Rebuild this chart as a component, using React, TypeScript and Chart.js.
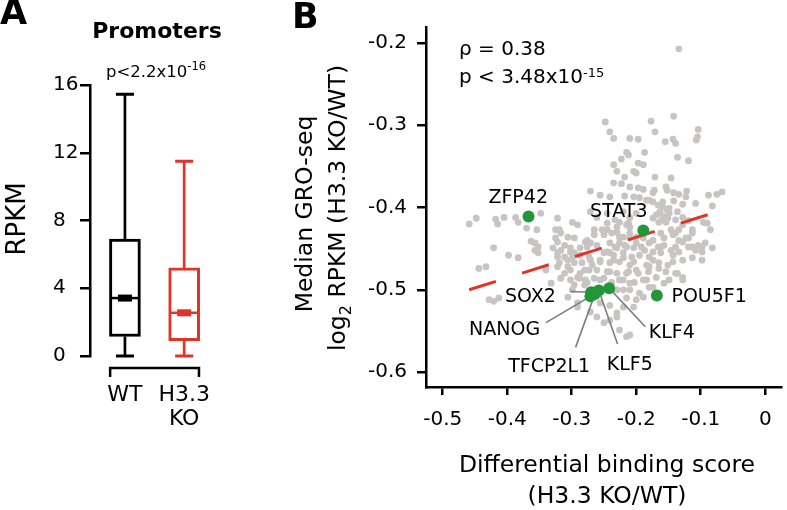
import React, { useEffect, useRef } from 'react';
import { Chart, registerables } from 'chart.js';
Chart.register(...registerables);

const FONT = '"DejaVu Sans", sans-serif';

// ---------- Panel A: promoter RPKM box plot ----------
const boxGroups = ['WT', 'H3.3 KO'];
const boxTickLabels = [['WT'], ['H3.3', 'KO']];
const whiskerLow = [0, 0];
const q1 = [1.15, 0.9];
const medians = [3.42, 2.55];
const q3 = [6.9, 5.2];
const whiskerHigh = [15.45, 11.5];
const boxColors = ['#000000', '#df3428'];
const rpkmTicks = [0, 4, 8, 12, 16];

// ---------- Panel B: scatter ----------
const scoreTicks = [-0.5, -0.4, -0.3, -0.2, -0.1, 0];
const scoreTickLabels = ['-0.5', '-0.4', '-0.3', '-0.2', '-0.1', '0'];
const groTicks = [-0.6, -0.5, -0.4, -0.3, -0.2];
const groTickLabels = ['-0.6', '-0.5', '-0.4', '-0.3', '-0.2'];

const bindingScore = [
  -0.134, -0.248, -0.177, -0.142, -0.104, -0.241, -0.235, -0.210, -0.197, -0.171,
  -0.155, -0.143, -0.139, -0.105, -0.107, -0.215, -0.212, -0.187, -0.223, -0.136,
  -0.119, -0.235, -0.197, -0.189, -0.230, -0.204, -0.200, -0.171, -0.146, -0.218,
  -0.235, -0.223, -0.210, -0.197, -0.189, -0.271, -0.174, -0.152, -0.134, -0.122,
  -0.075, -0.067, -0.241, -0.218, -0.204, -0.184, -0.174, -0.166, -0.159, -0.152,
  -0.163, -0.169, -0.157, -0.149, -0.160, -0.142, -0.128, -0.082, -0.271, -0.261,
  -0.245, -0.233, -0.459, -0.448, -0.418, -0.405, -0.415, -0.387, -0.383, -0.348,
  -0.370, -0.354, -0.322, -0.319, -0.299, -0.363, -0.325, -0.296, -0.265, -0.253,
  -0.230, -0.210, -0.154, -0.146, -0.139, -0.119, -0.113, -0.090, -0.085, -0.421,
  -0.287, -0.174, -0.166, -0.139, -0.128, -0.098, -0.271, -0.241, -0.230, -0.357,
  -0.444, -0.433, -0.398, -0.383, -0.352, -0.311, -0.296, -0.322, -0.296, -0.311,
  -0.332, -0.291, -0.280, -0.428, -0.421, -0.413, -0.241, -0.174, -0.165, -0.139,
  -0.128, -0.108, -0.169, -0.180, -0.291, -0.271, -0.261, -0.250, -0.241, -0.230,
  -0.220, -0.215, -0.276, -0.245, -0.230, -0.212, -0.165, -0.128, -0.096, -0.250,
  -0.238, -0.226, -0.210, -0.200, -0.162, -0.134, -0.119, -0.261, -0.233, -0.218,
  -0.204, -0.192, -0.180, -0.157, -0.146, -0.113, -0.093, -0.250, -0.235, -0.220,
  -0.207, -0.195, -0.180, -0.162, -0.143, -0.128, -0.256, -0.241, -0.226, -0.210,
  -0.184, -0.151, -0.245, -0.230, -0.212, -0.197, -0.181, -0.113, -0.098, -0.256,
  -0.238, -0.220, -0.203, -0.184, -0.157, -0.136, -0.230, -0.210, -0.195, -0.215,
  -0.200, -0.189, -0.204, -0.230, -0.256, -0.241, -0.226, -0.210, -0.291, -0.306,
  -0.322, -0.311, -0.276, -0.357, -0.322, -0.302, -0.319, -0.306, -0.284, -0.271,
  -0.340, -0.302, -0.287, -0.273, -0.317, -0.302, -0.279, -0.265, -0.299, -0.306,
  -0.291, -0.172, -0.154, -0.142, -0.123, -0.108, -0.088, -0.256, -0.195, -0.180,
  -0.159, -0.149, -0.136, -0.165, -0.174, -0.151, -0.139, -0.128, -0.220, -0.210,
  -0.200, -0.226, -0.215, -0.245, -0.220, -0.210, -0.226, -0.215, -0.200, -0.189,
  -0.187, -0.174, -0.162, -0.157, -0.143, -0.134, -0.123, -0.113, -0.134, -0.119,
  -0.104, -0.098, -0.082, -0.245, -0.256, -0.235, -0.220, -0.204, -0.180, -0.165,
  -0.143, -0.261, -0.241, -0.215, -0.200, -0.154, -0.250, -0.226, -0.210, -0.189,
  -0.174, -0.149, -0.128, -0.220, -0.352, -0.325, -0.317, -0.279, -0.265, -0.329,
  -0.317, -0.302, -0.276, -0.322, -0.299, -0.287, -0.273, -0.306, -0.268, -0.288,
  -0.296, -0.280
];
const groSeqRatio = [
  -0.207, -0.296, -0.295, -0.289, -0.305, -0.308, -0.316, -0.316, -0.317, -0.308,
  -0.320, -0.317, -0.322, -0.314, -0.318, -0.333, -0.336, -0.333, -0.341, -0.339,
  -0.343, -0.348, -0.346, -0.348, -0.356, -0.356, -0.358, -0.363, -0.364, -0.363,
  -0.370, -0.371, -0.375, -0.376, -0.378, -0.380, -0.382, -0.379, -0.384, -0.380,
  -0.384, -0.381, -0.387, -0.386, -0.387, -0.391, -0.393, -0.397, -0.399, -0.403,
  -0.405, -0.409, -0.411, -0.407, -0.415, -0.392, -0.396, -0.398, -0.405, -0.412,
  -0.407, -0.415, -0.420, -0.413, -0.414, -0.412, -0.420, -0.412, -0.418, -0.407,
  -0.425, -0.427, -0.413, -0.427, -0.418, -0.441, -0.437, -0.437, -0.427, -0.427,
  -0.430, -0.424, -0.418, -0.427, -0.431, -0.416, -0.427, -0.419, -0.427, -0.449,
  -0.449, -0.440, -0.448, -0.448, -0.442, -0.448, -0.443, -0.443, -0.449, -0.443,
  -0.474, -0.472, -0.458, -0.461, -0.455, -0.460, -0.455, -0.472, -0.467, -0.480,
  -0.492, -0.485, -0.476, -0.512, -0.514, -0.510, -0.455, -0.464, -0.474, -0.480,
  -0.488, -0.452, -0.485, -0.497, -0.521, -0.527, -0.533, -0.540, -0.537, -0.528,
  -0.521, -0.557, -0.491, -0.419, -0.424, -0.419, -0.418, -0.421, -0.418, -0.433,
  -0.431, -0.436, -0.437, -0.436, -0.431, -0.440, -0.437, -0.446, -0.448, -0.446,
  -0.449, -0.448, -0.443, -0.446, -0.452, -0.448, -0.443, -0.455, -0.458, -0.455,
  -0.460, -0.458, -0.460, -0.455, -0.458, -0.464, -0.466, -0.467, -0.466, -0.470,
  -0.470, -0.470, -0.478, -0.480, -0.478, -0.480, -0.478, -0.461, -0.464, -0.488,
  -0.491, -0.488, -0.491, -0.488, -0.492, -0.480, -0.500, -0.500, -0.504, -0.510,
  -0.512, -0.509, -0.521, -0.533, -0.516, -0.519, -0.549, -0.555, -0.421, -0.436,
  -0.442, -0.446, -0.440, -0.452, -0.455, -0.454, -0.467, -0.464, -0.467, -0.464,
  -0.476, -0.476, -0.480, -0.476, -0.486, -0.488, -0.488, -0.486, -0.500, -0.509,
  -0.516, -0.379, -0.375, -0.382, -0.387, -0.395, -0.385, -0.385, -0.388, -0.391,
  -0.393, -0.401, -0.405, -0.407, -0.413, -0.413, -0.415, -0.412, -0.405, -0.412,
  -0.407, -0.418, -0.421, -0.427, -0.436, -0.431, -0.443, -0.448, -0.443, -0.437,
  -0.452, -0.454, -0.448, -0.437, -0.433, -0.427, -0.437, -0.431, -0.454, -0.448,
  -0.446, -0.454, -0.449, -0.454, -0.464, -0.464, -0.461, -0.466, -0.472, -0.467,
  -0.466, -0.476, -0.478, -0.480, -0.476, -0.478, -0.486, -0.488, -0.492, -0.488,
  -0.497, -0.488, -0.485, -0.500, -0.448, -0.427, -0.431, -0.442, -0.433, -0.449,
  -0.452, -0.449, -0.448, -0.460, -0.460, -0.458, -0.460, -0.472, -0.470, -0.486,
  -0.494, -0.494
];

const genes = ['ZFP42', 'STAT3', 'POU5F1', 'SOX2', 'NANOG', 'TFCP2L1', 'KLF5', 'KLF4'];
const geneScore = [-0.367, -0.189, -0.168, -0.270, -0.271, -0.264, -0.258, -0.242];
const geneGro = [-0.411, -0.428, -0.507, -0.503, -0.508, -0.505, -0.501, -0.498];
// label anchor (centre x, baseline y) in data units, callout start (label side)
const geneLabelX = [-0.383, -0.227, -0.087, -0.364, -0.404, -0.335, -0.210, -0.145];
const geneLabelY = [-0.395, -0.412, -0.515, -0.515, -0.555, -0.600, -0.598, -0.559];
const calloutX = [null, null, null, -0.302, -0.340, -0.294, -0.229, -0.186];
const calloutY = [null, null, null, -0.502, -0.540, -0.570, -0.566, -0.545];

const fitX = [-0.459, -0.078];
const fitY = [-0.500, -0.406];

function drawText(ctx: CanvasRenderingContext2D, s: string, x: number, y: number, font: string, align: CanvasTextAlign = 'left') {
  ctx.save();
  ctx.font = font;
  ctx.fillStyle = '#000';
  ctx.textAlign = align;
  ctx.textBaseline = 'alphabetic';
  ctx.fillText(s, x, y);
  ctx.restore();
}

function drawPower(ctx: CanvasRenderingContext2D, base: string, sup: string, x: number, y: number, size: number, supSize: number, supY: number) {
  ctx.save();
  ctx.font = `${size}px ${FONT}`;
  ctx.fillStyle = '#000';
  ctx.textBaseline = 'alphabetic';
  ctx.textAlign = 'left';
  ctx.fillText(base, x, y);
  const w = ctx.measureText(base).width;
  ctx.font = `${supSize}px ${FONT}`;
  ctx.fillText(sup, x + w, supY);
  ctx.restore();
}

const boxPlugin = {
  id: 'boxExtras',
  beforeDatasetsDraw(chart: any) {
    const { ctx } = chart;
    const xs = chart.scales.x, ys = chart.scales.y;
    ctx.save();
    boxGroups.forEach((g, i) => {
      const xc = xs.getPixelForValue(i + 1);
      ctx.strokeStyle = boxColors[i];
      ctx.lineWidth = 2.7;
      ctx.beginPath();
      ctx.moveTo(xc, ys.getPixelForValue(q3[i]));
      ctx.lineTo(xc, ys.getPixelForValue(whiskerHigh[i]));
      ctx.moveTo(xc, ys.getPixelForValue(q1[i]));
      ctx.lineTo(xc, ys.getPixelForValue(whiskerLow[i]));
      ctx.stroke();
      ctx.lineWidth = 3;
      ctx.beginPath();
      [whiskerHigh[i], whiskerLow[i]].forEach((v) => {
        const y = ys.getPixelForValue(v);
        ctx.moveTo(xc - 9, y);
        ctx.lineTo(xc + 9, y);
      });
      ctx.stroke();
    });
    ctx.restore();
  },
  afterDatasetsDraw(chart: any) {
    const { ctx } = chart;
    const xs = chart.scales.x, ys = chart.scales.y;
    ctx.save();
    boxGroups.forEach((g, i) => {
      const xc = xs.getPixelForValue(i + 1);
      const y = ys.getPixelForValue(medians[i]);
      ctx.strokeStyle = boxColors[i];
      ctx.fillStyle = boxColors[i];
      ctx.lineWidth = 2.5;
      ctx.beginPath();
      ctx.moveTo(xc - 15, y);
      ctx.lineTo(xc + 15, y);
      ctx.stroke();
      ctx.fillRect(xc - 7, y - 3.5, 14, 7);
    });
    // bracket under the groups
    const x0 = xs.getPixelForValue(0.75), x1 = xs.getPixelForValue(2.25);
    const yb = chart.chartArea.bottom + 12;
    ctx.strokeStyle = '#000';
    ctx.lineWidth = 2.5;
    ctx.beginPath();
    ctx.moveTo(x0, yb + 9);
    ctx.lineTo(x0, yb);
    ctx.lineTo(x1, yb);
    ctx.lineTo(x1, yb + 9);
    ctx.stroke();
    ctx.restore();

    drawText(ctx, 'A', 0, 24, `bold 35px ${FONT}`);
    drawText(ctx, 'Promoters', 157, 38, `bold 22px ${FONT}`, 'center');
    drawPower(ctx, 'p<2.2x10', '-16', 106, 77, 16.5, 11.5, 70);
    ctx.save();
    ctx.translate(25, 219);
    ctx.rotate(-Math.PI / 2);
    drawText(ctx, 'RPKM', 0, 0, `26px ${FONT}`, 'center');
    ctx.restore();
  },
};

const scatterPlugin = {
  id: 'scatterExtras',
  afterDatasetDraw(chart: any, args: any) {
    if (args.index !== 2) return;
    const { ctx } = chart;
    const xs = chart.scales.x, ys = chart.scales.y;
    ctx.save();
    ctx.strokeStyle = '#7d7d7d';
    ctx.lineWidth = 1.6;
    genes.forEach((g, i) => {
      if (calloutX[i] === null) return;
      ctx.beginPath();
      ctx.moveTo(xs.getPixelForValue(calloutX[i]), ys.getPixelForValue(calloutY[i]));
      ctx.lineTo(xs.getPixelForValue(geneScore[i]), ys.getPixelForValue(geneGro[i]));
      ctx.stroke();
    });
    ctx.restore();
  },
  afterDraw(chart: any) {
    const { ctx } = chart;
    const xs = chart.scales.x, ys = chart.scales.y;
    genes.forEach((g, i) => {
      drawText(ctx, g, xs.getPixelForValue(geneLabelX[i]), ys.getPixelForValue(geneLabelY[i]), `19px ${FONT}`, 'center');
    });
    drawText(ctx, 'B', 52, 28, `bold 35px ${FONT}`);
    drawText(ctx, '\u03C1 = 0.38', 219, 55, `20px ${FONT}`);
    drawPower(ctx, 'p < 3.48x10', '-15', 219, 83, 20, 13, 77);

    // x title
    drawText(ctx, 'Differential binding score', 367, 472, `23.5px ${FONT}`, 'center');
    drawText(ctx, '(H3.3 KO/WT)', 367, 503, `23.5px ${FONT}`, 'center');

    // y title (rotated)
    ctx.save();
    ctx.translate(72, 214);
    ctx.rotate(-Math.PI / 2);
    drawText(ctx, 'Median GRO-seq', 0, 0, `23.5px ${FONT}`, 'center');
    ctx.restore();

    ctx.save();
    ctx.translate(105, 208);
    ctx.rotate(-Math.PI / 2);
    ctx.fillStyle = '#000';
    ctx.textBaseline = 'alphabetic';
    ctx.textAlign = 'left';
    const big = `23.5px ${FONT}`, small = `16px ${FONT}`;
    ctx.font = big;
    const w1 = ctx.measureText('log').width;
    const w3 = ctx.measureText(' RPKM (H3.3 KO/WT)').width;
    ctx.font = small;
    const w2 = ctx.measureText('2').width;
    let x = -(w1 + w2 + w3) / 2;
    ctx.font = big;
    ctx.fillText('log', x, 0);
    x += w1;
    ctx.font = small;
    ctx.fillText('2', x, 6);
    x += w2;
    ctx.font = big;
    ctx.fillText(' RPKM (H3.3 KO/WT)', x, 0);
    ctx.restore();
  },
};

export default function App() {
  const aRef = useRef<HTMLCanvasElement | null>(null);
  const bRef = useRef<HTMLCanvasElement | null>(null);

  useEffect(() => {
    const chartA = new Chart(aRef.current as HTMLCanvasElement, {
      type: 'bar',
      data: {
        datasets: [
          {
            data: boxGroups.map((g, i) => ({ x: i + 1, y: [q1[i], q3[i]] })) as any,
            backgroundColor: '#ffffff',
            borderColor: boxColors,
            borderWidth: 3,
            borderSkipped: false,
            barThickness: 31,
          } as any,
        ],
      },
      options: {
        responsive: true,
        maintainAspectRatio: false,
        animation: false,
        layout: { padding: { left: 53, right: 10, top: 85, bottom: 0 } },
        plugins: { legend: { display: false }, tooltip: { enabled: false } },
        scales: {
          x: {
            type: 'linear',
            offset: false,
            min: 0.41,
            max: 2.705,
            grid: { display: false, drawTicks: false, offset: false },
            border: { display: false },
            afterBuildTicks: (s: any) => {
              s.ticks = boxGroups.map((g, i) => ({ value: i + 1 }));
            },
            ticks: {
              callback: (v: any) => boxTickLabels[Math.round(v) - 1],
              font: { family: FONT, size: 22, lineHeight: 1.1 },
              color: '#000',
              padding: 27,
              maxRotation: 0,
              autoSkip: false,
            },
            afterFit: (s: any) => {
              s.height = 154;
            },
          },
          y: {
            min: 0,
            max: 16,
            afterBuildTicks: (s: any) => {
              s.ticks = rpkmTicks.map((v) => ({ value: v }));
            },
            grid: { drawOnChartArea: false, drawTicks: true, tickLength: 10, color: '#000', lineWidth: 2.5 },
            border: { display: true, color: '#000', width: 2.5 },
            ticks: { font: { family: FONT, size: 20 }, color: '#000', padding: 4, crossAlign: 'far' },
            afterFit: (s: any) => {
              s.width = 37;
            },
          },
        },
      } as any,
      plugins: [boxPlugin],
    });

    const chartB = new Chart(bRef.current as HTMLCanvasElement, {
      type: 'scatter',
      data: {
        datasets: [
          {
            label: 'genes',
            data: genes.map((g, i) => ({ x: geneScore[i], y: geneGro[i] })),
            pointRadius: 6,
            backgroundColor: '#23963a',
            borderWidth: 0,
          },
          {
            label: 'fit',
            data: fitX.map((x, i) => ({ x, y: fitY[i] })),
            showLine: true,
            borderColor: '#df3428',
            borderWidth: 3,
            borderDash: [28, 27.5],
            borderCapStyle: 'butt',
            pointRadius: 0,
            fill: false,
          },
          {
            label: 'promoters',
            data: bindingScore.map((x, i) => ({ x, y: groSeqRatio[i] })),
            pointRadius: 3.4,
            backgroundColor: '#c8c4c4',
            borderWidth: 0,
          },
        ] as any,
      },
      options: {
        responsive: true,
        maintainAspectRatio: false,
        animation: false,
        layout: { padding: { left: 0, right: 0, top: 27, bottom: 0 } },
        plugins: { legend: { display: false }, tooltip: { enabled: false } },
        scales: {
          x: {
            type: 'linear',
            min: -0.5259,
            max: 0.0244,
            afterBuildTicks: (s: any) => {
              s.ticks = scoreTicks.map((v) => ({ value: v }));
            },
            grid: { drawOnChartArea: false, drawTicks: true, tickLength: 8, color: '#000', lineWidth: 2.5 },
            border: { display: true, color: '#000', width: 2.5 },
            ticks: {
              callback: (v: any, idx: number) => scoreTickLabels[idx],
              font: { family: FONT, size: 20 },
              color: '#000',
              padding: 13,
              maxRotation: 0,
              autoSkip: false,
            },
            afterFit: (s: any) => {
              s.height = 123;
            },
          },
          y: {
            type: 'linear',
            min: -0.6182,
            max: -0.1805,
            afterBuildTicks: (s: any) => {
              s.ticks = groTicks.map((v) => ({ value: v }));
            },
            grid: { drawOnChartArea: false, drawTicks: true, tickLength: 9, color: '#000', lineWidth: 2.5 },
            border: { display: true, color: '#000', width: 2.5 },
            ticks: {
              callback: (v: any, idx: number) => groTickLabels[idx],
              font: { family: FONT, size: 20 },
              color: '#000',
              padding: 10,
              autoSkip: false,
            },
            afterFit: (s: any) => {
              s.width = 186;
            },
          },
        },
      } as any,
      plugins: [scatterPlugin],
    });

    return () => {
      chartA.destroy();
      chartB.destroy();
    };
  }, []);

  return (
    <div style={{ position: 'absolute', left: 0, top: 0, width: 787, height: 510, background: '#fff', overflow: 'hidden' }}>
      <div style={{ position: 'absolute', left: 0, top: 0, width: 240, height: 510 }}>
        <canvas ref={aRef} />
      </div>
      <div style={{ position: 'absolute', left: 240, top: 0, width: 547, height: 510 }}>
        <canvas ref={bRef} />
      </div>
    </div>
  );
}
